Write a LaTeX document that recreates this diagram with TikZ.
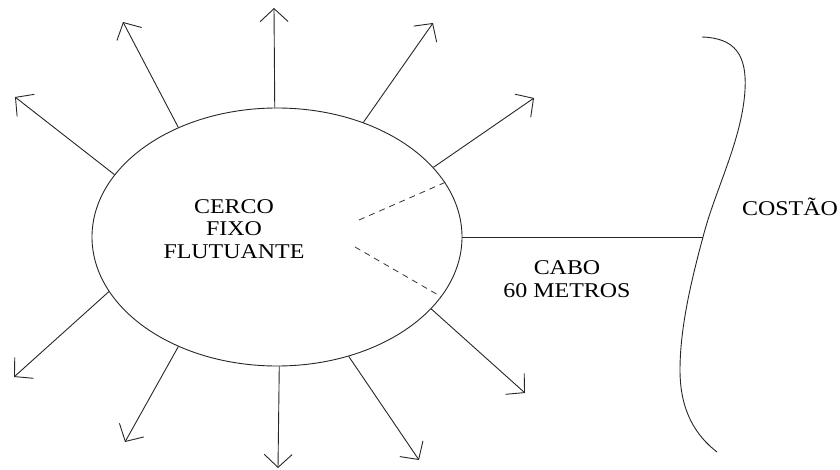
\documentclass[tikz,border=0pt]{standalone}
\usepackage{fontspec}
\setmainfont{Liberation Serif}
\usetikzlibrary{arrows.meta,shapes.geometric}
\begin{document}
\begin{tikzpicture}[x=1pt,y=-1pt,
  ln/.style={draw=black!85,line width=0.9pt},
  arr/.style={ln,-{Straight Barb[length=13pt,width=28pt,line width=0.9pt]}},
  dsh/.style={draw=black!80,line width=0.8pt,dash pattern=on 6pt off 5pt},
  lbl/.style={font=\fontsize{21}{22.5}\selectfont,align=center,inner sep=0pt,xscale=1.14,text=black}]
\useasboundingbox (0,0) rectangle (840,470);
\node[ellipse,ln,minimum width=370pt,minimum height=258pt,inner sep=0pt] (cerco) at (277,237) {};
\node[lbl] (txt) at (234,229) {CERCO\\FIXO\\FLUTUANTE};
% tips
\coordinate (t1) at (274,8);
\coordinate (t2) at (123,22);
\coordinate (t3) at (15,97);
\coordinate (t4) at (433,23);
\coordinate (t5) at (534,98);
\coordinate (t6) at (525,393);
\coordinate (t7) at (419,460);
\coordinate (t8) at (278,468);
\coordinate (t9) at (125,442);
\coordinate (t10) at (14,377);
\draw[arr] (cerco.91) -- (t1);
\draw[arr] (cerco.132.8) -- (t2);
\draw[arr] (cerco.159.9) -- (t3);
\draw[arr] (cerco.53) -- (t4);
\draw[arr] (cerco.24.5) -- (t5);
\draw[arr] (cerco.-25.2) -- (t6);
\draw[arr] (cerco.-59) -- (t7);
\draw[arr] (cerco.-89.6) -- (t8);
\draw[arr] (cerco.228.3) -- (t9);
\draw[arr] (cerco.198.4) -- (t10);
% dashed
\coordinate (d0a) at (359,220);
\coordinate (d0b) at (355,247);
\draw[dsh] (d0a) -- (cerco.18.3);
\draw[dsh] (d0b) -- (cerco.-20.6);
% shore
\coordinate (shore) at (703,237);
\draw[ln] (702,37) .. controls (735,38) and (747,55) .. (745,90)
  .. controls (742,140) and (715,190) .. (shore)
  .. controls (690,285) and (680,330) .. (680,370)
  .. controls (680,410) and (695,435) .. (717,452);
\draw[ln] (cerco.0) -- (shore);
\node[lbl] (costao) at (790,206.5) {COSTÃO};
\node[lbl] (cabo) at (567,279) {CABO\\60 METROS};
\end{tikzpicture}
\end{document}
